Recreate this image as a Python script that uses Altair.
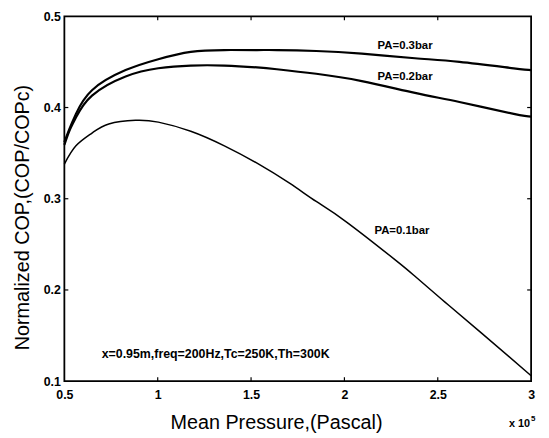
import altair as alt
import pandas as pd

# ---- data ----
x_pa03 = [0.5, 0.526, 0.562, 0.648, 0.828, 1.003, 1.177, 1.357, 1.532, 1.638, 1.849, 2.093, 2.378, 2.616, 2.907, 3.0]
y_pa03 = [0.362, 0.376, 0.393, 0.419, 0.441, 0.453, 0.461, 0.463, 0.463, 0.463, 0.462, 0.459, 0.454, 0.450, 0.443, 0.441]

x_pa02 = [0.5, 0.526, 0.562, 0.648, 0.828, 1.003, 1.177, 1.357, 1.532, 1.638, 1.849, 2.093, 2.378, 2.616, 2.907, 3.0]
y_pa02 = [0.359, 0.374, 0.389, 0.413, 0.434, 0.443, 0.446, 0.446, 0.444, 0.442, 0.437, 0.429, 0.416, 0.406, 0.393, 0.390]

x_pa01 = [0.5, 0.562, 0.648, 0.738, 0.881, 1.003, 1.177, 1.357, 1.532, 1.706, 1.849, 2.008, 2.272, 2.378, 2.537, 2.733, 3.0]
y_pa01 = [0.338, 0.358, 0.372, 0.382, 0.386, 0.384, 0.374, 0.358, 0.339, 0.317, 0.297, 0.275, 0.233, 0.215, 0.187, 0.153, 0.106]

series_names = ["PA=0.3bar", "PA=0.2bar", "PA=0.1bar"]

label_text = ["PA=0.3bar", "PA=0.2bar", "PA=0.1bar"]
label_x = [2.325, 2.325, 2.308]
label_y = [0.467, 0.433, 0.265]

note_text = ["x=0.95m,freq=200Hz,Tc=250K,Th=300K"]
note_x = [0.70]
note_y = [0.130]

x_ticks = [0.5, 1, 1.5, 2, 2.5, 3]
y_ticks = [0.1, 0.2, 0.3, 0.4, 0.5]

x_title = "Mean Pressure,(Pascal)"
y_title = "Normalized COP,(COP/COPc)"
exp_base = "x 10"
exp_power = "5"

# ---- layout ----
W, H = 472, 369
X0, X1 = 0.5, 3.0
Y0, Y1 = 0.1, 0.5
TICK_PX = 4

lines_df = pd.concat([
    pd.DataFrame({"x": x_pa03, "y": y_pa03, "s": series_names[0], "w": 2.2}),
    pd.DataFrame({"x": x_pa02, "y": y_pa02, "s": series_names[1], "w": 2.2}),
    pd.DataFrame({"x": x_pa01, "y": y_pa01, "s": series_names[2], "w": 1.5}),
])

xs = alt.Scale(domain=[X0, X1], nice=False, zero=False)
ys = alt.Scale(domain=[Y0, Y1], nice=False, zero=False)

FONT = "Liberation Sans"

x_axis = alt.Axis(
    values=x_ticks, format="~g", grid=False, domain=False, ticks=False,
    labelFont=FONT, labelFontSize=12.5, labelFontWeight="bold", labelColor="black",
    labelPadding=8, title=x_title, titleFont=FONT, titleFontSize=20,
    titleFontWeight="normal", titleColor="black", titleX=214, titleY=48,
    titleBaseline="alphabetic", labelFlush=False,
)
y_axis = alt.Axis(
    values=y_ticks, format="~g", grid=False, domain=False, ticks=False,
    labelFont=FONT, labelFontSize=12.5, labelFontWeight="bold", labelColor="black",
    labelPadding=4, title=y_title, titleFont=FONT, titleFontSize=20,
    titleFontWeight="normal", titleColor="black", titleX=-42, titleY=203,
    titleBaseline="middle", titleAngle=270, labelFlush=False,
)

lines = alt.Chart(lines_df).mark_line(color="black", interpolate="natural").encode(
    x=alt.X("x:Q", scale=xs, axis=x_axis),
    y=alt.Y("y:Q", scale=ys, axis=y_axis),
    detail="s:N",
    strokeWidth=alt.StrokeWidth("w:Q", scale=None, legend=None),
)

# inward tick marks on all four sides
ly = TICK_PX * (Y1 - Y0) / H
lx = TICK_PX * (X1 - X0) / W
inner_x = [v for v in x_ticks if X0 < v < X1]
inner_y = [v for v in y_ticks if Y0 < v < Y1]
tick_rows = []
for v in inner_x:
    tick_rows.append({"x": v, "x2": v, "y": Y0, "y2": Y0 + ly})
    tick_rows.append({"x": v, "x2": v, "y": Y1, "y2": Y1 - ly})
for v in inner_y:
    tick_rows.append({"x": X0, "x2": X0 + lx, "y": v, "y2": v})
    tick_rows.append({"x": X1, "x2": X1 - lx, "y": v, "y2": v})
ticks = alt.Chart(pd.DataFrame(tick_rows)).mark_rule(color="black", strokeWidth=1.2).encode(
    x=alt.X("x:Q", scale=xs), x2="x2:Q",
    y=alt.Y("y:Q", scale=ys), y2="y2:Q",
)

labels = alt.Chart(pd.DataFrame({"x": label_x, "y": label_y, "t": label_text})).mark_text(
    font=FONT, fontSize=11.5, fontWeight="bold", color="black", align="center", baseline="middle"
).encode(x=alt.X("x:Q", scale=xs), y=alt.Y("y:Q", scale=ys), text="t:N")

note = alt.Chart(pd.DataFrame({"x": note_x, "y": note_y, "t": note_text})).mark_text(
    font=FONT, fontSize=12.5, fontWeight="bold", color="black",
    align="left", baseline="middle"
).encode(x=alt.X("x:Q", scale=xs), y=alt.Y("y:Q", scale=ys), text="t:N")

exp1 = alt.Chart(pd.DataFrame({"t": [exp_base]})).mark_text(
    font=FONT, fontSize=11, fontWeight="bold", color="black", align="right", baseline="alphabetic"
).encode(x=alt.value(W - 1), y=alt.value(H + 46), text="t:N")
exp2 = alt.Chart(pd.DataFrame({"t": [exp_power]})).mark_text(
    font=FONT, fontSize=8, fontWeight="bold", color="black", align="left", baseline="alphabetic"
).encode(x=alt.value(W + 0), y=alt.value(H + 40), text="t:N")

chart = alt.layer(lines, ticks, labels, note, exp1, exp2).properties(
    width=W, height=H,
    autosize=alt.AutoSizeParams(type="none"),
    padding={"left": 57, "top": 6, "right": 10, "bottom": 50},
    background="white",
).configure_view(stroke="black", strokeWidth=1.8)

chart.save("out.html", embed_options={"renderer": "svg", "actions": False})
